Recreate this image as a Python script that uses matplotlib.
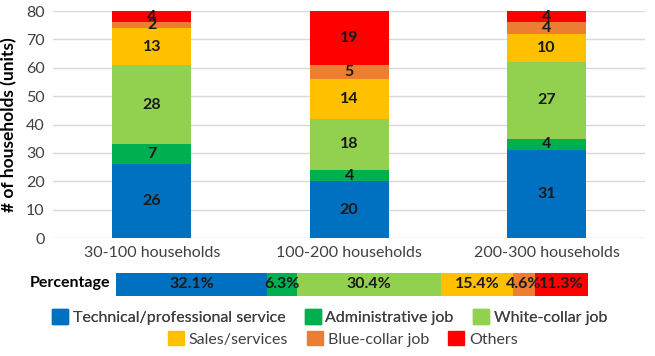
import matplotlib.pyplot as plt
import numpy as np

plt.rcParams['font.family'] = ['Lato', 'DejaVu Sans']

groups = ["30-100 households", "100-200 households", "200-300 households"]
jobs = ["Technical/professional service", "Administrative job", "White-collar job",
        "Sales/services", "Blue-collar job", "Others"]
colors = ["#0070C0", "#00B050", "#92D050", "#FFC000", "#ED7D31", "#FF0000"]

counts = {
    "Technical/professional service": [26, 20, 31],
    "Administrative job": [7, 4, 4],
    "White-collar job": [28, 18, 27],
    "Sales/services": [13, 14, 10],
    "Blue-collar job": [2, 5, 4],
    "Others": [4, 19, 4],
}
percent = [32.1, 6.3, 30.4, 15.4, 4.6, 11.3]

fig = plt.figure(figsize=(6.55, 3.56), dpi=100)

# main stacked bar chart
ax = fig.add_axes([0.081, 0.331, 0.904, 0.638])
x = np.arange(len(groups))
bottom = np.zeros(len(groups))
for job, c in zip(jobs, colors):
    vals = np.array(counts[job])
    ax.bar(x, vals, bottom=bottom, width=0.4, color=c, zorder=3)
    for xi, b, v in zip(x, bottom, vals):
        ax.text(xi, b + v / 2, str(v), ha="center", va="center",
                fontsize=11.5, fontweight="bold", color="#1a1a1a", zorder=4)
    bottom += vals

ax.set_xlim(-0.5, 2.5)
ax.set_ylim(0, 80)
ax.set_yticks(range(0, 81, 10))
ax.set_xticks(x)
ax.set_xticklabels(groups)
ax.tick_params(length=0, labelsize=11.5, labelcolor="#404040", pad=6)
ax.yaxis.grid(True, color="#d9d9d9", linewidth=1, zorder=0)
for s in ax.spines.values():
    s.set_visible(False)
ax.set_ylabel("# of households (units)", fontsize=12.5, fontweight="bold", labelpad=6)

# percentage bar
ax2 = fig.add_axes([0.177, 0.169, 0.721, 0.065])
left = 0
for p, c in zip(percent, colors):
    ax2.barh(0, p, left=left, height=1, color=c)
    ax2.text(left + p / 2, 0, f"{p}%", ha="center", va="center",
             fontsize=11.5, fontweight="bold", color="#1a1a1a")
    left += p
ax2.set_xlim(0, sum(percent))
ax2.set_ylim(-0.5, 0.5)
ax2.axis("off")
fig.text(0.046, 0.204, "Percentage", ha="left", va="center",
         fontsize=11.5, fontweight="bold")

# legend in two centred rows
handles = [plt.Rectangle((0, 0), 1, 1, color=c) for c in colors]
leg1 = fig.legend(handles[:3], jobs[:3], ncol=3, loc="center",
                  bbox_to_anchor=(0.503, 0.109), frameon=False, fontsize=11.5,
                  handlelength=1.0, handleheight=1.0, handletextpad=0.3,
                  columnspacing=1.2, labelcolor="#404040")
fig.add_artist(leg1)
fig.legend(handles[3:], jobs[3:], ncol=3, loc="center",
           bbox_to_anchor=(0.523, 0.048), frameon=False, fontsize=11.5,
           handlelength=1.0, handleheight=1.0, handletextpad=0.3,
           columnspacing=1.2, labelcolor="#404040")

fig.savefig("out.png", dpi=100)
